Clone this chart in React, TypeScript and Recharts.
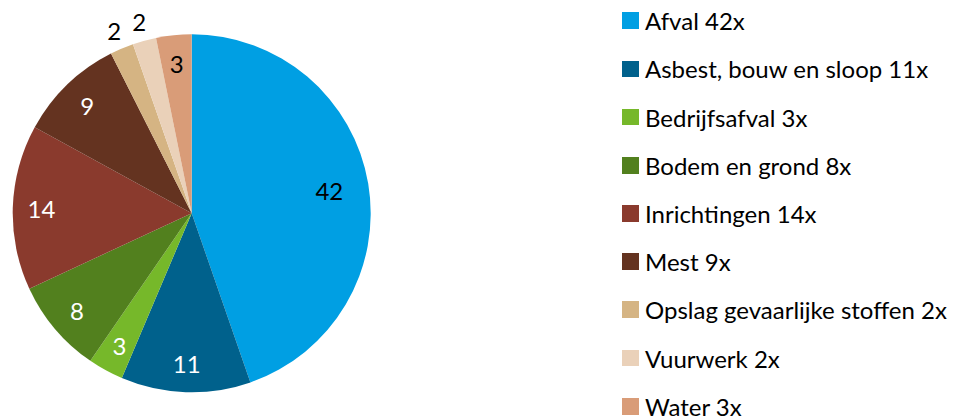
import React from "react";
import { PieChart, Pie, Cell, Legend } from "recharts";

const categories = [
  "Afval",
  "Asbest, bouw en sloop",
  "Bedrijfsafval",
  "Bodem en grond",
  "Inrichtingen",
  "Mest",
  "Opslag gevaarlijke stoffen",
  "Vuurwerk",
  "Water",
];
const counts = [42, 11, 3, 8, 14, 9, 2, 2, 3];
const colors = [
  "#009FE3",
  "#00618C",
  "#76B82A",
  "#52801E",
  "#8A3A2D",
  "#643320",
  "#D5B483",
  "#EAD1B9",
  "#D99C78",
];
const labelColors = ["#000", "#fff", "#fff", "#fff", "#fff", "#fff", "#000", "#000", "#000"];

const data = categories.map((name, i) => ({ name, value: counts[i] }));

const FONT = "Lato, 'Open Sans', sans-serif";
const RADIAN = Math.PI / 180;

const renderLabel = (props: any) => {
  const { cx, cy, midAngle, outerRadius, index, value } = props;
  const pct = value / counts.reduce((a, b) => a + b, 0);
  let factor = 0.84;
  if (index === 0) factor = 0.78;
  if (pct < 0.025) factor = 1.11;
  const r = outerRadius * factor;
  const x = cx + r * Math.cos(-midAngle * RADIAN);
  const y = cy + r * Math.sin(-midAngle * RADIAN);
  return (
    <text
      x={x}
      y={y}
      fill={labelColors[index]}
      textAnchor="middle"
      dominantBaseline="central"
      fontFamily={FONT}
      fontSize={24}
    >
      {value}
    </text>
  );
};

const renderLegend = () => (
  <div style={{ fontFamily: FONT, fontSize: 24, color: "#000" }}>
    {data.map((d, i) => (
      <div
        key={d.name}
        style={{ display: "flex", alignItems: "center", height: 48.2, whiteSpace: "nowrap" }}
      >
        <span
          style={{
            display: "inline-block",
            width: 16.7,
            height: 16.7,
            background: colors[i],
            marginRight: 6,
            flex: "none",
          }}
        />
        <span>{`${d.name} ${d.value}x`}</span>
      </div>
    ))}
  </div>
);

export default function App() {
  return (
    <div style={{ position: "absolute", left: 0, top: 0, width: 960, height: 417, background: "#fff" }}>
      <PieChart width={960} height={417} margin={{ top: 0, right: 0, bottom: 0, left: 0 }}>
        <Pie
          data={data}
          dataKey="value"
          nameKey="name"
          cx={191.7}
          cy={213.3}
          outerRadius={179}
          innerRadius={0}
          startAngle={90}
          endAngle={-270}
          stroke="none"
          labelLine={false}
          label={renderLabel}
          isAnimationActive={false}
        >
          {data.map((d, i) => (
            <Cell key={d.name} fill={colors[i]} />
          ))}
        </Pie>
        <Legend
          layout="vertical"
          align="right"
          verticalAlign="top"
          content={renderLegend}
          wrapperStyle={{ position: "absolute", left: 622.3, top: -3.4, width: 340 }}
        />
      </PieChart>
    </div>
  );
}
